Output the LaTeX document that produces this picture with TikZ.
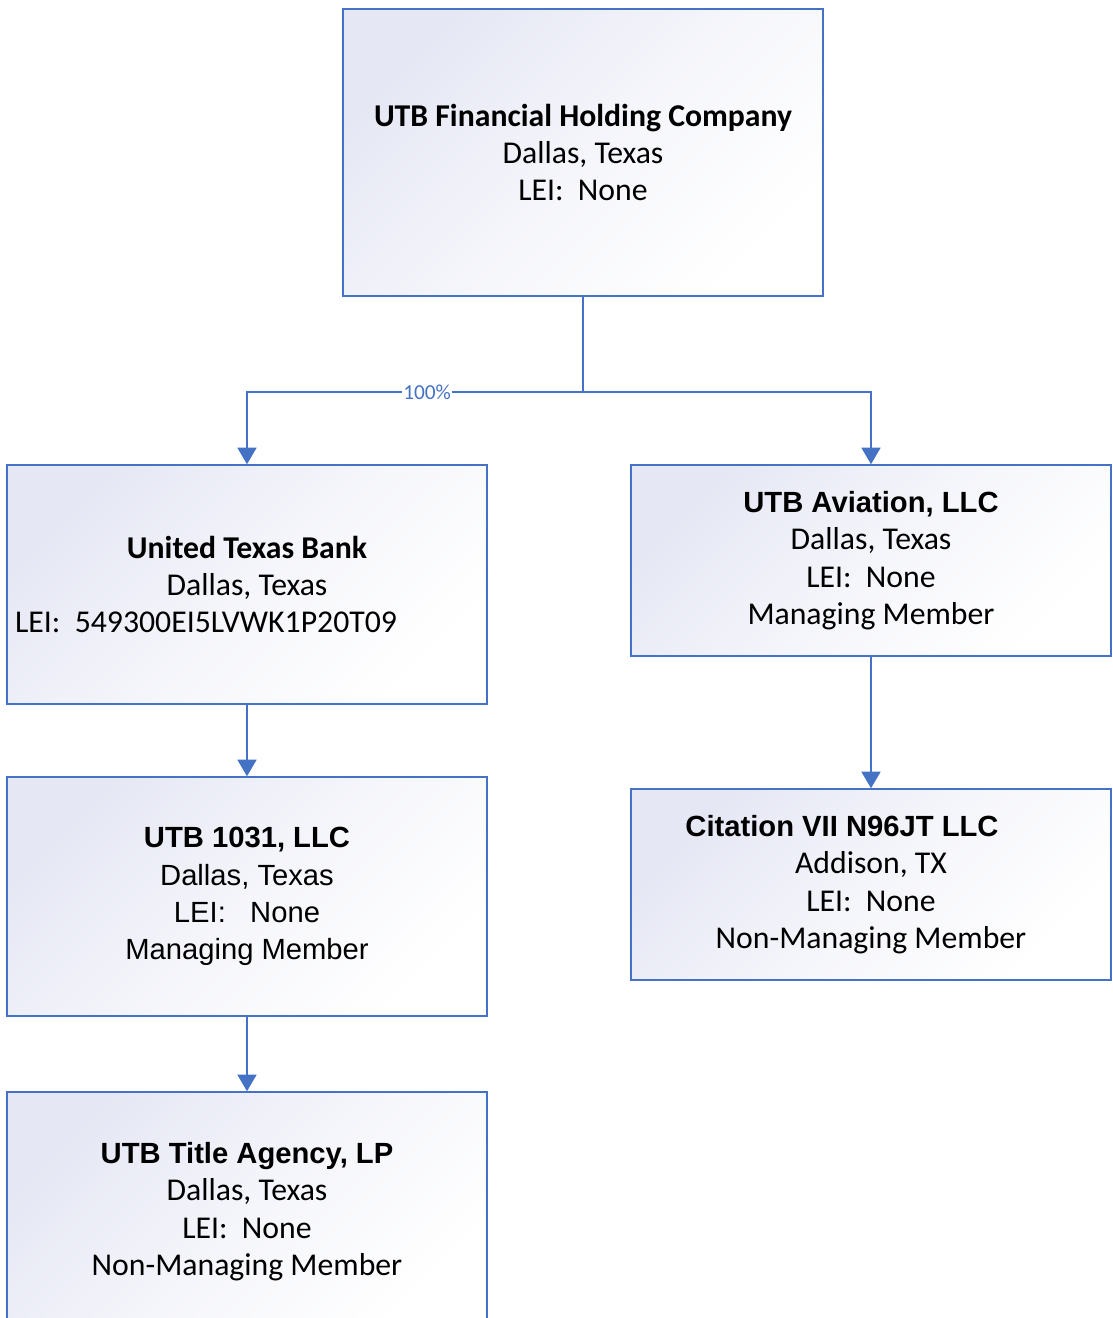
\documentclass[tikz,border=0pt]{standalone}
\usepackage{fontspec}
\setmainfont{Carlito}
\newfontfamily\arialfont{Liberation Sans}
\usetikzlibrary{arrows.meta}
\definecolor{utbblue}{RGB}{68,114,196}
\definecolor{shadetop}{RGB}{229,231,244}
\newcommand{\arialtxt}{\arialfont\fontsize{21.9pt}{28pt}\selectfont}
\tikzset{
  orgbox/.style={draw=utbblue, line width=1pt, top color=shadetop, bottom color=white, middle color=white!60!shadetop, shading angle=45, minimum width=360pt, align=center, inner sep=0pt, font=\fontsize{23.8pt}{28pt}\selectfont},
  link/.style={draw=utbblue, line width=2.1pt},
  linkarrow/.style={link, -{Triangle[width=14pt,length=12.5pt]}}
}
\begin{document}
\begin{tikzpicture}[x=0.75pt,y=0.75pt,yscale=-1,xscale=1]
\clip (0,0) rectangle (1113,1318);

%Shape: Rectangle
\draw (583,152.5) node [orgbox, minimum height=215.25pt] (fhc) {{\bfseries UTB Financial Holding Company}\\ Dallas, Texas\\ LEI:\ \ None};

%Shape: Rectangle
\draw (247,584.5) node [orgbox, minimum height=179.25pt] (bank) {{\bfseries United Texas Bank}\\ Dallas, Texas\\ \hspace*{-61.5pt}LEI:\ \ 549300EI5LVWK1P20T09};

%Shape: Rectangle
\draw (871,560.5) node [orgbox, minimum height=143.25pt] (aviation) {{\arialtxt\bfseries UTB Aviation, LLC}\\ Dallas, Texas\\ LEI:\ \ None\\ Managing Member};

%Shape: Rectangle
\draw (247,896.5) node [orgbox, minimum height=179.25pt, font=\arialtxt] (llc) {{\bfseries UTB 1031, LLC}\\ Dallas, Texas\\ LEI:\ \ \ None\\ Managing Member};

%Shape: Rectangle
\draw (871,884.5) node [orgbox, minimum height=143.25pt] (citation) {\hspace*{-43.5pt}{\arialtxt\bfseries Citation VII N96JT LLC}\\ Addison, TX\\ LEI:\ \ None\\ Non-Managing Member};

%Shape: Rectangle
\draw (247,1211.5) node [orgbox, minimum height=179.25pt] (title) {{\arialtxt\bfseries UTB Title Agency, LP}\\ Dallas, Texas\\ LEI:\ \ None\\ Non-Managing Member};

%Straight Lines
\coordinate (split) at (583,392);
\draw [link] (fhc.south) -- (split);
\draw [linkarrow] (split) -| (bank.north) node [pos=0.232, fill=white, inner sep=1pt, text=utbblue, font=\fontsize{16pt}{18pt}\selectfont] (share) {100\%};
\draw [linkarrow] (split) -| (aviation.north);
\draw [linkarrow] (bank.south) -- (llc.north);
\draw [linkarrow] (llc.south) -- (title.north);
\draw [linkarrow] (aviation.south) -- (citation.north);

\end{tikzpicture}
\end{document}
